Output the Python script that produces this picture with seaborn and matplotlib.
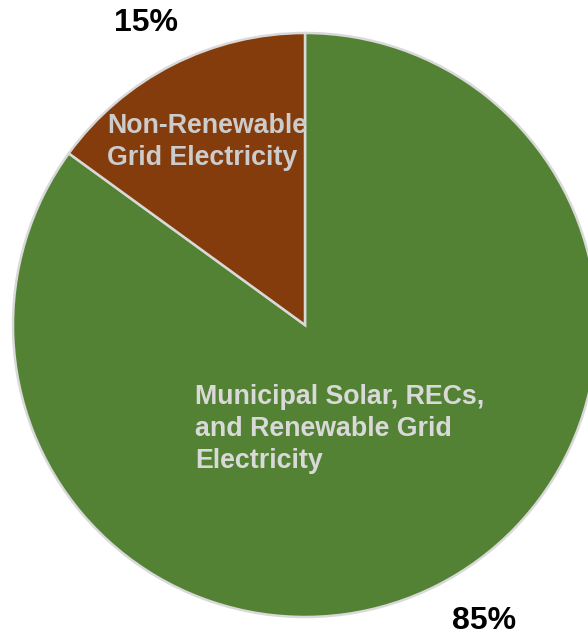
import matplotlib
matplotlib.use("Agg")
import matplotlib.pyplot as plt
import seaborn as sns

# data
categories = ["Municipal Solar, RECs,\nand Renewable Grid\nElectricity",
              "Non-Renewable\nGrid Electricity"]
shares = [85, 15]
pct_labels = ["85%", "15%"]
colors = ["#548235", "#843C0C"]

sns.set_theme(style="white")
plt.rcParams['font.family'] = ['Liberation Sans', 'DejaVu Sans']

fig = plt.figure(figsize=(5.88, 6.35), dpi=100)
ax = fig.add_axes([0, 0, 1, 1])

# pie in pixel units, centre (305, 310), radius 292
cx, cy, r = 305, 310, 292
wedges, _ = ax.pie(shares, colors=colors, startangle=90, counterclock=False,
                   radius=r, center=(cx, cy), frame=True,
                   wedgeprops=dict(edgecolor="#D9D9D9", linewidth=1.8))

# category labels inside slices
ax.text(107, 635 - 142, categories[1], color="#CCCCCC", fontsize=19.3,
        fontweight="bold", ha="left", va="center", linespacing=1.3)
ax.text(195, 635 - 429, categories[0], color="#D9D9D9", fontsize=19.3,
        fontweight="bold", ha="left", va="center", linespacing=1.3)

# percentage labels outside
ax.text(146, 635 - 23, pct_labels[1], color="black", fontsize=23,
        fontweight="bold", ha="center", va="center")
ax.text(484, 635 - 621, pct_labels[0], color="black", fontsize=23,
        fontweight="bold", ha="center", va="center")

ax.set_xlim(0, 588)
ax.set_ylim(0, 635)
ax.set_aspect("equal")
ax.axis("off")

fig.savefig("out.png", dpi=100, facecolor="white")
